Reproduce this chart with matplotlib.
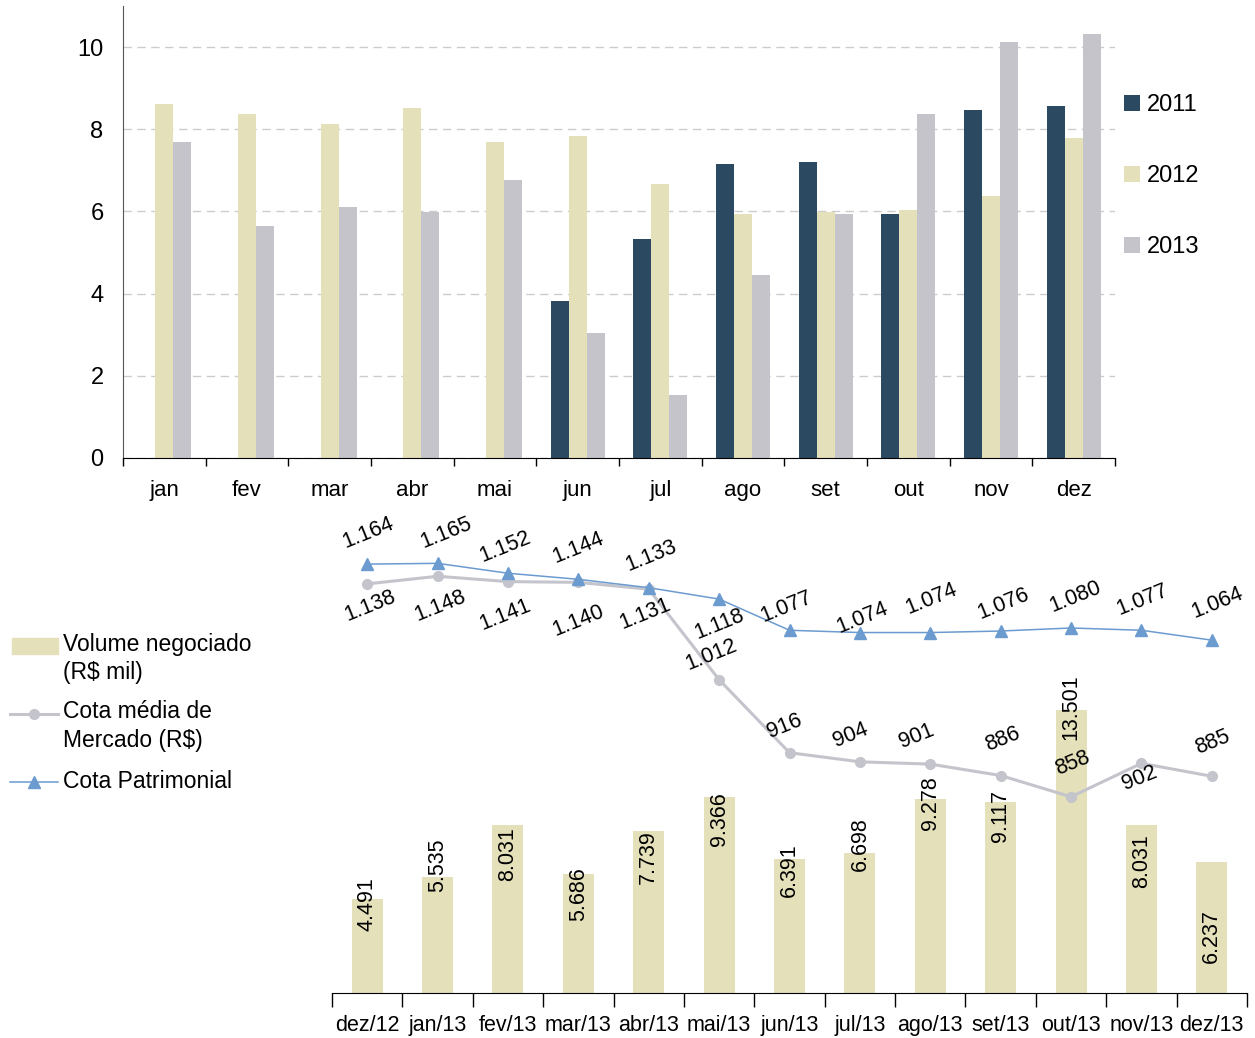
import numpy as np
import matplotlib.pyplot as plt
from matplotlib.patches import Rectangle
from matplotlib.lines import Line2D

plt.rcParams['font.family'] = ['Liberation Sans', 'DejaVu Sans']

# grafico de cima: por mes e ano
meses = ['jan', 'fev', 'mar', 'abr', 'mai', 'jun', 'jul', 'ago', 'set', 'out', 'nov', 'dez']
anos = ['2011', '2012', '2013']
v2011 = [np.nan, np.nan, np.nan, np.nan, np.nan, 3.83, 5.34, 7.15, 7.20, 5.93, 8.47, 8.57]
v2012 = [8.62, 8.37, 8.13, 8.52, 7.69, 7.83, 6.66, 5.93, 5.98, 6.03, 6.37, 7.78]
v2013 = [7.69, 5.64, 6.10, 5.99, 6.76, 3.05, 1.53, 4.46, 5.93, 8.37, 10.13, 10.33]

# grafico de baixo: volume e cotas
periodos = ['dez/12', 'jan/13', 'fev/13', 'mar/13', 'abr/13', 'mai/13', 'jun/13',
            'jul/13', 'ago/13', 'set/13', 'out/13', 'nov/13', 'dez/13']
volume = [4491, 5535, 8031, 5686, 7739, 9366, 6391, 6698, 9278, 9117, 13501, 8031, 6237]
cota_mercado = [1138, 1148, 1141, 1140, 1131, 1012, 916, 904, 901, 886, 858, 902, 885]
cota_patrimonial = [1164, 1165, 1152, 1144, 1133, 1118, 1077, 1074, 1074, 1076, 1080, 1077, 1064]

# deslocamento dos rotulos (pixels)
off_patr = [(1, 31), (9, 30), (-3, 26), (0, 31), (2, 32), (0, -25), (-3, 23),
            (2, 15), (1, 34), (3, 27), (4, 31), (1, 30), (6, 37)]
off_merc = [(3, -22), (3, -30), (-3, -33), (0, -38), (-4, -25), (-8, 25), (-5, 26),
            (-9, 27), (-14, 28), (2, 36), (2, 34), (-2, -15), (1, 34)]
off_vol = [-5, 12, -29, -20, -26, -22, -11, 9, -4, -14, 3, -36, -74]

c2011 = '#2b4a61'
c2012 = '#e4e0ba'
c2013 = '#c5c4cb'
cinza = '#c4c4cc'
azul = '#6b9bcf'

W, H = 1255, 1038


def box(l, t, r, b):
    return [l / W, 1 - b / H, (r - l) / W, (b - t) / H]


def br(v):
    return f'{v:,}'.replace(',', '.')


fig = plt.figure(figsize=(W / 100, H / 100), dpi=100)

# ---- de cima
ax1 = fig.add_axes(box(123, 6, 1115, 458))
x = np.arange(len(meses))
w = 0.218
ax1.bar(x - w, v2011, w, color=c2011, label=anos[0])
ax1.bar(x, v2012, w, color=c2012, label=anos[1])
ax1.bar(x + w, v2013, w, color=c2013, label=anos[2])
ax1.set_xlim(-0.5, 11.5)
ax1.set_ylim(0, 11)
ax1.set_yticks(range(0, 11, 2))
ax1.set_xticks(x, meses)
ax1.set_xticks(np.arange(-0.5, 12, 1), minor=True)
ax1.tick_params(axis='x', which='major', length=0, pad=16, labelsize=16)
ax1.tick_params(axis='x', which='minor', length=6, width=1, direction='out')
ax1.tick_params(axis='y', length=0, pad=14, labelsize=17)
ax1.spines[['top', 'right']].set_visible(False)
ax1.spines['left'].set_color('#555555')
ax1.spines['bottom'].set_color('black')
ax1.set_axisbelow(True)
ax1.yaxis.grid(True, ls=(0, (6, 4)), color='#cccccc', lw=1)
ax1.legend(loc='upper left', bbox_to_anchor=(1124 / W, 1 - 94 / H),
           bbox_transform=fig.transFigure, frameon=False, fontsize=17,
           handlelength=0.68, handleheight=0.68, handletextpad=0.3,
           labelspacing=2.08, borderpad=0, borderaxespad=0)

# ---- de baixo
ax2 = fig.add_axes(box(332, 520, 1247, 993))
xb = np.arange(len(periodos))
ax2.bar(xb, volume, 0.44, color=c2012)
ax2.set_xlim(-0.5, 12.5)
ax2.set_ylim(0, 22600)
ax2.set_yticks([])
ax2.set_xticks(xb, periodos)
ax2.set_xticks(np.arange(-0.5, 13, 1), minor=True)
ax2.tick_params(axis='x', which='major', length=0, pad=16, labelsize=15.5)
ax2.tick_params(axis='x', which='minor', length=10, width=1, direction='out')
ax2.spines[['top', 'right', 'left']].set_visible(False)
ax2.spines['bottom'].set_color('black')
for i, v in enumerate(volume):
    ax2.annotate(br(v), (i, v), xytext=(0, off_vol[i]), textcoords='offset pixels',
                 rotation=90, ha='center', va='center', fontsize=15.5)

ax3 = ax2.twinx()
ax3.set_ylim(600, 1222)
ax3.set_yticks([])
ax3.spines[:].set_visible(False)
ax3.plot(xb, cota_mercado, color=cinza, lw=2.2, marker='o', ms=7)
ax3.plot(xb, cota_patrimonial, color=azul, lw=1.1, marker='^', ms=8)
for i, v in enumerate(cota_patrimonial):
    ax3.annotate(br(v), (i, v), xytext=off_patr[i], textcoords='offset pixels',
                 rotation=22, ha='center', va='center', fontsize=15.5)
for i, v in enumerate(cota_mercado):
    ax3.annotate(br(v), (i, v), xytext=off_merc[i], textcoords='offset pixels',
                 rotation=22, ha='center', va='center', fontsize=15.5)

# legenda de baixo, feita a mao
tf = fig.transFigure
fig.add_artist(Rectangle((12 / W, 1 - 654 / H), 46 / W, 16 / H, color=c2012, transform=tf))
fig.add_artist(Line2D([10 / W, 34 / W, 58 / W], [1 - 714 / H] * 3, color=cinza, lw=2.2,
                      marker='o', ms=7, markevery=[1], transform=tf))
fig.add_artist(Line2D([10 / W, 34 / W, 58 / W], [1 - 782 / H] * 3, color=azul, lw=1.1,
                      marker='^', ms=8, markevery=[1], transform=tf))
linhas = [('Volume negociado', 645), ('(R$ mil)', 673), ('Cota média de', 712),
          ('Mercado (R$)', 740), ('Cota Patrimonial', 781)]
for txt, yy in linhas:
    fig.text(63 / W, 1 - yy / H, txt, va='center', ha='left', fontsize=16.5)

fig.savefig('out.png', dpi=100)
